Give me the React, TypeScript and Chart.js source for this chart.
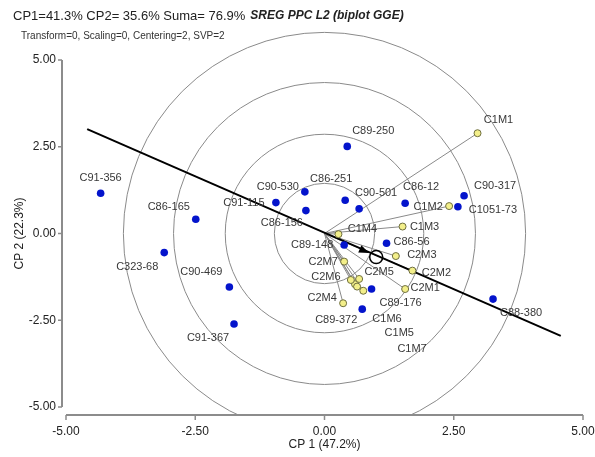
import React, { useEffect, useRef } from 'react';
import { Chart, registerables } from 'chart.js';

Chart.register(...registerables);

// ---- Data ----
const genoNames = ['C91-356', 'C86-165', 'C323-68', 'C90-469', 'C91-367', 'C91-115', 'C90-530', 'C86-156', 'C86-251', 'C89-250', 'C90-501', 'C86-12', 'C90-317', 'C1051-73', 'C86-56', 'C89-148', 'C89-176', 'C89-372', 'C88-380'];
const genoX = [-4.33, -2.49, -3.10, -1.84, -1.75, -0.94, -0.38, -0.36, 0.40, 0.44, 0.67, 1.56, 2.70, 2.58, 1.20, 0.38, 0.91, 0.73, 3.26];
const genoY = [1.16, 0.41, -0.55, -1.54, -2.61, 0.89, 1.20, 0.66, 0.96, 2.51, 0.71, 0.87, 1.09, 0.77, -0.28, -0.33, -1.60, -2.18, -1.89];

const envNames = ['C1M1', 'C1M2', 'C1M3', 'C1M4', 'C1M5', 'C1M6', 'C1M7', 'C2M1', 'C2M2', 'C2M3', 'C2M4', 'C2M5', 'C2M6', 'C2M7'];
const envX = [2.96, 2.41, 1.51, 0.27, 0.75, 0.59, 0.63, 1.56, 1.70, 1.38, 0.36, 0.67, 0.51, 0.38];
const envY = [2.89, 0.79, 0.20, -0.02, -1.65, -1.46, -1.53, -1.60, -1.07, -0.65, -2.01, -1.31, -1.34, -0.81];

const circleRadii = [0.97, 1.92, 2.92, 3.89];
const aeaStart = [-4.59, 3.01];
const aeaEnd = [4.57, -2.95];
const avgEnv = [1.0, -0.68];
const arrowTip = [0.86, -0.56];
const axisTicks = [-5, -2.5, 0, 2.5, 5];

const headerMain = 'CP1=41.3% CP2= 35.6% Suma= 76.9%';
const headerBold = 'SREG PPC L2 (biplot GGE)';
const headerSub = 'Transform=0, Scaling=0, Centering=2, SVP=2';
const xTitle = 'CP 1 (47.2%)';
const yTitle = 'CP 2 (22.3%)';

// ---- Label layout (pixel offsets from each marker) ----
const genoLabelOffsets = [[0, -15], [-27, -12], [-27, 14], [-28, -15], [-26, 14], [-32, 0], [-27, -5], [-24, 12], [-14, -21], [26, -15], [17, -16], [16, -16], [31, -10], [35, 3], [25, -1], [-32, 0], [29, 14], [-26, 11], [28, 14]];
const envLabelOffsets = [[21, -13], [-21, 1], [22, 0], [24, -5], [36, 42], [32, 35], [55, 62], [20, -1], [24, 2], [26, -1], [-21, -5], [20, -7], [-25, -3], [-21, 0]];

const FONT = '"Liberation Sans", Arial, sans-serif';

const biplotPlugin = {
  id: 'biplotExtras',
  beforeDatasetsDraw(chart: any) {
    const { ctx, scales } = chart;
    const xs = scales.x, ys = scales.y;
    const ox = xs.getPixelForValue(0), oy = ys.getPixelForValue(0);
    const ppu = xs.getPixelForValue(1) - ox;
    const axisY = ys.getPixelForValue(-5) + 8;
    const axisX = xs.getPixelForValue(-5) - 4;

    // concentric circles
    ctx.save();
    ctx.beginPath();
    ctx.rect(0, 0, chart.width, axisY);
    ctx.clip();
    ctx.strokeStyle = '#8a8a8a';
    ctx.lineWidth = 1;
    circleRadii.forEach((r) => {
      ctx.beginPath();
      ctx.arc(ox, oy, r * ppu, 0, Math.PI * 2);
      ctx.stroke();
    });
    ctx.restore();

    // environment vectors
    ctx.save();
    ctx.strokeStyle = '#8a8a8a';
    ctx.lineWidth = 1;
    envX.forEach((vx, i) => {
      ctx.beginPath();
      ctx.moveTo(ox, oy);
      ctx.lineTo(xs.getPixelForValue(vx), ys.getPixelForValue(envY[i]));
      ctx.stroke();
    });
    ctx.restore();

    // axes lines and tick marks
    ctx.save();
    ctx.strokeStyle = '#8c8c8c';
    ctx.lineWidth = 2;
    ctx.beginPath();
    ctx.moveTo(xs.getPixelForValue(-5), axisY);
    ctx.lineTo(xs.getPixelForValue(5), axisY);
    ctx.moveTo(axisX, ys.getPixelForValue(5));
    ctx.lineTo(axisX, ys.getPixelForValue(-5));
    ctx.stroke();
    ctx.lineWidth = 1.5;
    ctx.beginPath();
    axisTicks.forEach((t) => {
      const px = xs.getPixelForValue(t);
      ctx.moveTo(px, axisY);
      ctx.lineTo(px, axisY + 5);
      const py = ys.getPixelForValue(t);
      ctx.moveTo(axisX, py);
      ctx.lineTo(axisX - 4, py);
    });
    ctx.stroke();
    ctx.restore();
  },
  afterDatasetsDraw(chart: any) {
    const { ctx, scales } = chart;
    const xs = scales.x, ys = scales.y;
    // arrow head on average environment axis
    const sx = xs.getPixelForValue(aeaStart[0]), sy = ys.getPixelForValue(aeaStart[1]);
    const ex = xs.getPixelForValue(aeaEnd[0]), ey = ys.getPixelForValue(aeaEnd[1]);
    const ang = Math.atan2(ey - sy, ex - sx);
    const tx = xs.getPixelForValue(arrowTip[0]), ty = ys.getPixelForValue(arrowTip[1]);
    ctx.save();
    ctx.fillStyle = '#000';
    ctx.beginPath();
    ctx.moveTo(tx, ty);
    ctx.lineTo(tx - 10 * Math.cos(ang) + 4 * Math.sin(ang), ty - 10 * Math.sin(ang) - 4 * Math.cos(ang));
    ctx.lineTo(tx - 10 * Math.cos(ang) - 4 * Math.sin(ang), ty - 10 * Math.sin(ang) + 4 * Math.cos(ang));
    ctx.closePath();
    ctx.fill();
    ctx.restore();

    // labels
    ctx.save();
    ctx.font = '11px ' + FONT;
    ctx.fillStyle = '#383838';
    ctx.textAlign = 'center';
    ctx.textBaseline = 'middle';
    genoNames.forEach((n, i) => {
      const px = xs.getPixelForValue(genoX[i]) + genoLabelOffsets[i][0];
      const py = ys.getPixelForValue(genoY[i]) + genoLabelOffsets[i][1];
      ctx.fillText(n, px, py);
    });
    envNames.forEach((n, i) => {
      const px = xs.getPixelForValue(envX[i]) + envLabelOffsets[i][0];
      const py = ys.getPixelForValue(envY[i]) + envLabelOffsets[i][1];
      ctx.fillText(n, px, py);
    });
    ctx.restore();
  },
  afterDraw(chart: any) {
    const { ctx } = chart;
    ctx.save();
    ctx.textBaseline = 'middle';
    ctx.textAlign = 'left';
    ctx.fillStyle = '#222';
    ctx.font = '13px ' + FONT;
    ctx.fillText(headerMain, 13, 16);
    const w = ctx.measureText(headerMain).width;
    ctx.font = 'italic bold 12px ' + FONT;
    ctx.fillText(headerBold, Math.max(250, 13 + w + 5), 16);
    ctx.fillStyle = '#333';
    ctx.font = '10px ' + FONT;
    ctx.fillText(headerSub, 21, 36);
    ctx.restore();
  },
};

export default function App() {
  const ref = useRef<HTMLCanvasElement | null>(null);
  useEffect(() => {
    document.body.style.margin = '0';
    const canvas = ref.current;
    if (!canvas) return;
    const tickFont = { family: FONT, size: 12 };
    const chart = new Chart(canvas, {
      type: 'scatter',
      data: {
        datasets: [
          {
            label: 'avg',
            data: [{ x: avgEnv[0], y: avgEnv[1] }],
            pointRadius: 6.5,
            pointBackgroundColor: 'rgba(0,0,0,0)',
            pointBorderColor: '#000',
            pointBorderWidth: 1.5,
            order: 0,
          },
          {
            label: 'env',
            data: envX.map((v, i) => ({ x: v, y: envY[i] })),
            pointRadius: 3.5,
            pointBackgroundColor: '#f3ef8a',
            pointBorderColor: '#6e6e3e',
            pointBorderWidth: 1,
            order: 1,
          },
          {
            label: 'geno',
            data: genoX.map((v, i) => ({ x: v, y: genoY[i] })),
            pointRadius: 3.8,
            pointBackgroundColor: '#0414cc',
            pointBorderColor: '#0414cc',
            pointBorderWidth: 0,
            order: 2,
          },
          {
            label: 'aea',
            data: [{ x: aeaStart[0], y: aeaStart[1] }, { x: aeaEnd[0], y: aeaEnd[1] }],
            showLine: true,
            borderColor: '#000',
            borderWidth: 2,
            pointRadius: 0,
            order: 3,
          },
        ],
      },
      options: {
        animation: false,
        responsive: false,
        maintainAspectRatio: false,
        layout: { padding: { top: 60, right: 12, bottom: 0, left: 0 } },
        plugins: { legend: { display: false }, tooltip: { enabled: false } },
        scales: {
          x: {
            type: 'linear',
            min: -5,
            max: 5,
            afterBuildTicks: (s: any) => { s.ticks = axisTicks.map((v) => ({ value: v })); },
            afterFit: (s: any) => { s.height = 50; s.paddingLeft = 0; s.paddingRight = 0; },
            grid: { display: false, drawTicks: false },
            border: { display: false },
            ticks: { autoSkip: false, padding: 17, color: '#222', font: tickFont, callback: (v: any) => Number(v).toFixed(2) },
            title: { display: true, text: xTitle, color: '#222', font: tickFont, padding: { top: 0, bottom: 5 } },
          },
          y: {
            type: 'linear',
            min: -5,
            max: 5,
            afterBuildTicks: (s: any) => { s.ticks = axisTicks.map((v) => ({ value: v })); },
            afterFit: (s: any) => { s.width = 66; s.paddingTop = 0; s.paddingBottom = 0; },
            grid: { display: false, drawTicks: false },
            border: { display: false },
            ticks: { autoSkip: false, padding: 10, color: '#222', font: tickFont, callback: (v: any) => Number(v).toFixed(2) },
            title: { display: true, text: yTitle, color: '#222', font: tickFont, padding: { top: 12, bottom: 0 } },
          },
        },
      },
      plugins: [biplotPlugin],
    } as any);
    return () => chart.destroy();
  }, []);
  return (
    <div style={{ width: 595, height: 457, background: '#fff' }}>
      <canvas ref={ref} width={595} height={457} style={{ display: 'block', width: 595, height: 457 }} />
    </div>
  );
}
